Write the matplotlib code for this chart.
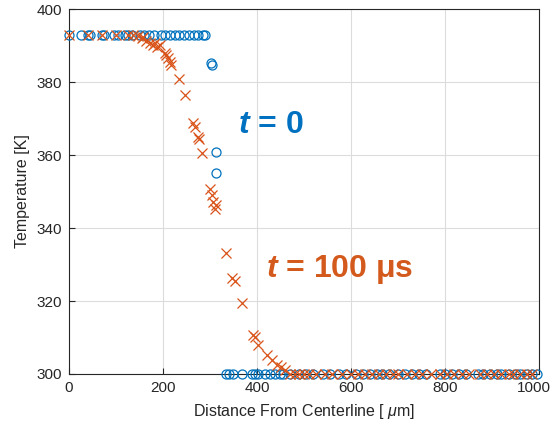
import matplotlib
matplotlib.use("Agg")
import matplotlib.pyplot as plt
import matplotlib.transforms as mtransforms

plt.rcParams['font.family'] = ['Liberation Sans', 'DejaVu Sans']
plt.rcParams['mathtext.fontset'] = 'custom'
plt.rcParams['mathtext.rm'] = 'Liberation Sans'
plt.rcParams['mathtext.it'] = 'Liberation Sans:italic'
plt.rcParams['mathtext.bf'] = 'Liberation Sans:bold'
plt.rcParams['mathtext.bfit'] = 'Liberation Sans:italic:bold'

# t = 0 (blue circles)
t0_x = [0, 25, 40, 45, 70, 75, 95, 105, 120, 125, 135, 150, 160, 170, 180, 195,
        205, 215, 225, 235, 245, 255, 265, 275, 285, 290,
        303, 304, 313, 313,
        334, 341, 348, 367, 389, 396, 403, 417, 428, 438, 449, 456, 470, 490,
        505, 520, 540, 555, 575, 590, 610, 625, 640, 655, 665, 680, 700, 715,
        730, 745, 760, 790, 800, 815, 830, 845, 870, 880, 895, 910, 920, 935,
        950, 960, 975, 985, 995]
t0_y = [393] * 26 + [385.3, 384.8, 360.7, 355.0] + [300] * 47

# t = 100 us (orange crosses)
t100_x = [0, 41, 70, 101, 126, 136, 147, 155, 158, 164, 172, 179, 183, 187, 194,
          204, 206, 211, 215, 218, 233, 247, 264, 268, 275, 277, 282, 300, 304,
          307, 311, 313, 335, 346, 353, 367, 392, 396, 403, 421, 431, 442, 452,
          460,
          470, 480, 490, 500, 510, 525, 545, 560, 580, 600, 615, 630, 645, 660,
          675, 690, 700, 720, 735, 750, 770, 790, 805, 820, 835, 850, 875, 890,
          905, 920, 935, 945, 960, 975, 985]
t100_y = [393, 393, 393, 393, 393, 393, 392.6, 392.0, 392.4, 391.3, 390.8, 390.1,
          390.6, 389.7, 390.1, 387.9, 387.4, 386.7, 385.6, 384.7, 380.7, 376.5,
          368.7, 367.8, 365.0, 364.3, 360.5, 350.6, 349.0, 347.2, 345.2, 346.3,
          333.1, 326.2, 325.6, 319.4, 310.7, 310.2, 308.0, 305.2, 303.8, 302.5,
          301.8, 301.1] + [300] * 35

x_ticks = [0, 200, 400, 600, 800, 1000]
y_ticks = [300, 320, 340, 360, 380, 400]

fig = plt.figure(figsize=(5.53, 4.32), dpi=100)
ax = fig.add_axes([0.1248, 0.1343, 0.85, 0.8447])

ax.plot(t0_x, t0_y, 'o', mfc='none', mec='#0072BD', ms=6.5, mew=0.9, clip_on=False, zorder=3)
ax.plot(t100_x, t100_y, 'x', color='#D95319', ms=6.5, mew=0.9, clip_on=False, zorder=3)

ax.set_xlim(0, 1000)
ax.set_ylim(300, 400)
ax.set_xticks(x_ticks)
ax.set_yticks(y_ticks)
ax.grid(True, color='#dcdcdc', lw=0.8)
ax.set_axisbelow(True)
ax.tick_params(direction='in', length=4, labelsize=11, colors='#262626', pad=5)
for s in ax.spines.values():
    s.set_color('#262626')
    s.set_linewidth(0.8)

# nudge the last x tick label so it stays inside the figure
last = ax.get_xticklabels()[-1]
last.set_transform(last.get_transform() + mtransforms.ScaledTranslation(-5 / 100, 0, fig.dpi_scale_trans))

ax.set_xlabel(r'Distance From Centerline [ $\mu$m]', fontsize=11.5, color='#262626', labelpad=5)
ax.set_ylabel('Temperature [K]', fontsize=11.5, color='#262626', labelpad=5)

ax.text(430, 368.2, r'$\mathbfit{t}$ = 0', color='#0070C0', fontsize=23,
        fontweight='bold', ha='center', va='center')
ax.text(576, 328.5, r'$\mathbfit{t}$ = 100 μs', color='#D35A1C', fontsize=23,
        fontweight='bold', ha='center', va='center')

fig.savefig('out.png', dpi=100)
